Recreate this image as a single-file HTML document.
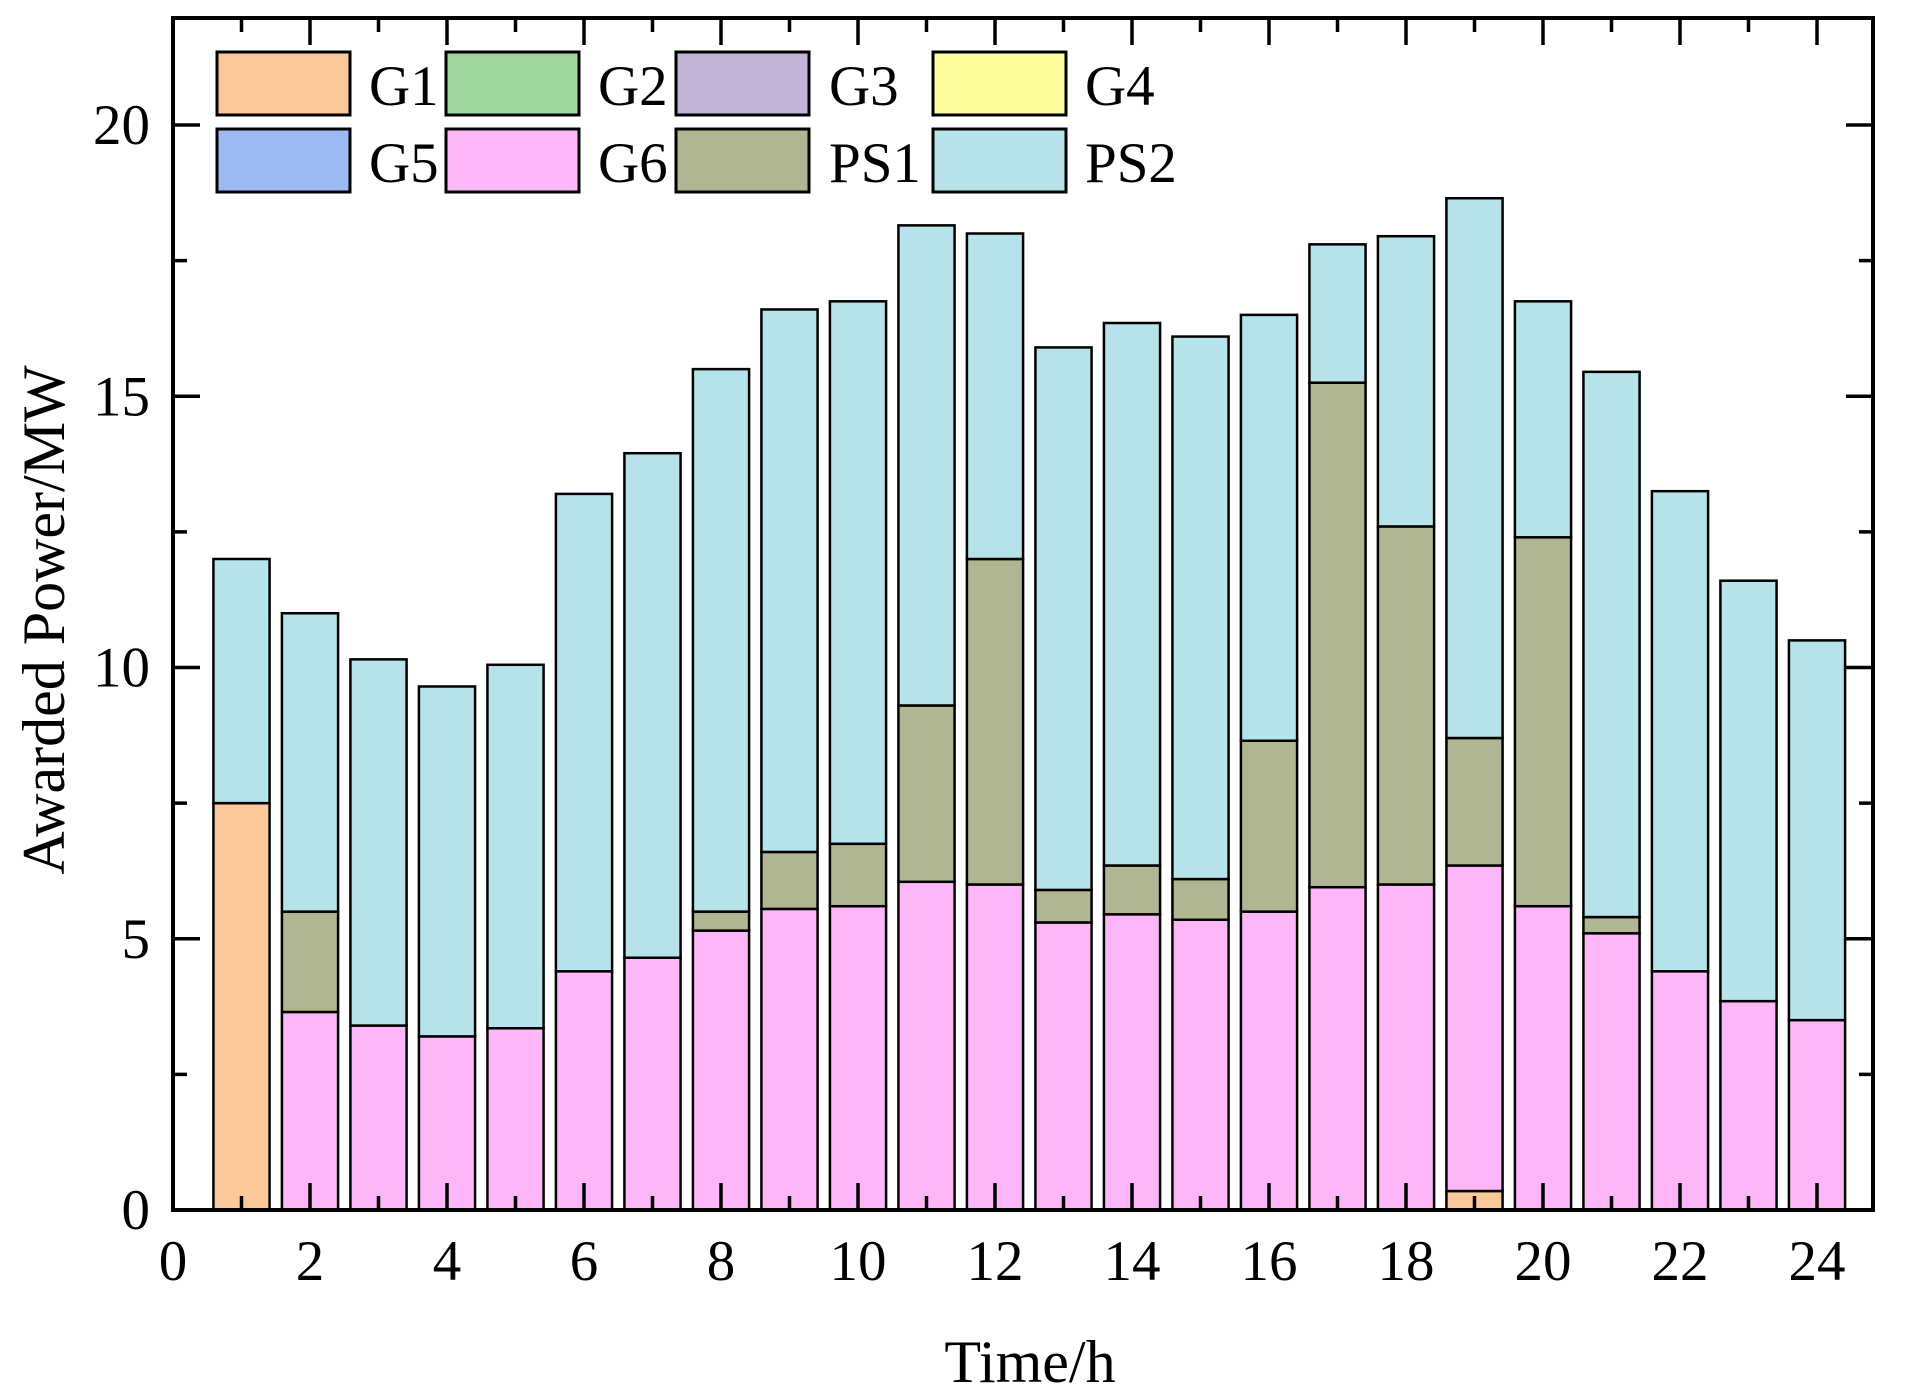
<!DOCTYPE html>
<html><head><meta charset="utf-8"><style>
html,body{margin:0;padding:0;background:#fff}
svg{display:block;font-family:"Liberation Serif",serif}
</style></head><body>
<svg id="chart" width="1912" height="1399" viewBox="0 0 1912 1399" xmlns="http://www.w3.org/2000/svg">
<g id="bars"></g>
<g id="axes"></g>
<g id="legend"></g>
<text x="1030" y="1382" font-size="60" text-anchor="middle">Time/h</text>
<text x="0" y="0" font-size="60" text-anchor="middle" transform="translate(64,620) rotate(-90)">Awarded Power/MW</text>
</svg>
<script>
const hours=[1,2,3,4,5,6,7,8,9,10,11,12,13,14,15,16,17,18,19,20,21,22,23,24];
const g1=[7.5,0,0,0,0,0,0,0,0,0,0,0,0,0,0,0,0,0,0.35,0,0,0,0,0];
const g6=[0,3.65,3.4,3.2,3.35,4.4,4.65,5.15,5.55,5.6,6.05,6.0,5.3,5.45,5.35,5.5,5.95,6.0,6.0,5.6,5.1,4.4,3.85,3.5];
const ps1=[0,1.85,0,0,0,0,0,0.35,1.05,1.15,3.25,6.0,0.6,0.9,0.75,3.15,9.3,6.6,2.35,6.8,0.3,0,0,0];
const ps2=[4.5,5.5,6.75,6.45,6.7,8.8,9.3,10.0,10.0,10.0,8.85,6.0,10.0,10.0,10.0,7.85,2.55,5.35,9.95,4.35,10.05,8.85,7.75,7.0];
const xTicks=[0,2,4,6,8,10,12,14,16,18,20,22,24];
const yTicks=[0,5,10,15,20];
const legendNames=["G1","G2","G3","G4","G5","G6","PS1","PS2"];
const legendColors=["#fbc999","#9fd89c","#c2b3d6","#fefe9e","#9bbbf2","#fdb7f8","#b1b591","#b5e3e9"];
const NS="http://www.w3.org/2000/svg";
const L=173,R=1873,T=18,B=1210;
const xs=v=>L+v*68.5;
const ys=v=>B-v*54.25;
function mk(tag,attrs,parent){const e=document.createElementNS(NS,tag);for(const k in attrs)e.setAttribute(k,attrs[k]);parent.appendChild(e);return e;}
const bars=document.getElementById('bars'),axes=document.getElementById('axes'),leg=document.getElementById('legend');
const series=[["g1",g1,legendColors[0]],["g6",g6,legendColors[5]],["ps1",ps1,legendColors[6]],["ps2",ps2,legendColors[7]]];
const bw=0.82*68.5;
hours.forEach((h,i)=>{let base=0;series.forEach(([n,arr,c])=>{const v=arr[i];if(v<=0)return;
const r=mk('rect',{x:xs(h)-bw/2,y:ys(base+v),width:bw,height:ys(base)-ys(base+v),fill:c,stroke:'#000','stroke-width':2.5},bars);


base+=v;});});
const frame=mk('rect',{x:L,y:T,width:R-L,height:B-T,fill:'none',stroke:'#000','stroke-width':4},axes);


for(let v=0;v<=24;v++){const major=v%2===0,len=major?27:14,x=xs(v);
mk('line',{x1:x,y1:B,x2:x,y2:B-len,stroke:'#000','stroke-width':3.5},axes);
mk('line',{x1:x,y1:T,x2:x,y2:T+len,stroke:'#000','stroke-width':3.5},axes);}
for(let v=0;v<=20;v+=2.5){const major=v%5===0,len=major?27:14,y=ys(v);
mk('line',{x1:L,y1:y,x2:L+len,y2:y,stroke:'#000','stroke-width':3.5},axes);
mk('line',{x1:R,y1:y,x2:R-len,y2:y,stroke:'#000','stroke-width':3.5},axes);}
xTicks.forEach(v=>{const t=mk('text',{x:xs(v),y:1280,'font-size':57,'text-anchor':'middle'},axes);t.textContent=v;

});
yTicks.forEach(v=>{const t=mk('text',{x:150,y:ys(v)+19,'font-size':57,'text-anchor':'end'},axes);t.textContent=v;

});
const colX=[217,446,676,933],txtX=[369,598,829,1085],rowY=[52,129];
legendNames.forEach((n,i)=>{const c=i%4,r=Math.floor(i/4);
const g=mk('g',{},leg);


mk('rect',{x:colX[c],y:rowY[r],width:133,height:63,fill:legendColors[i],stroke:'#000','stroke-width':3},g);
const t=mk('text',{x:txtX[c],y:rowY[r]+53,'font-size':57},g);t.textContent=n;});
</script>
</body></html>
